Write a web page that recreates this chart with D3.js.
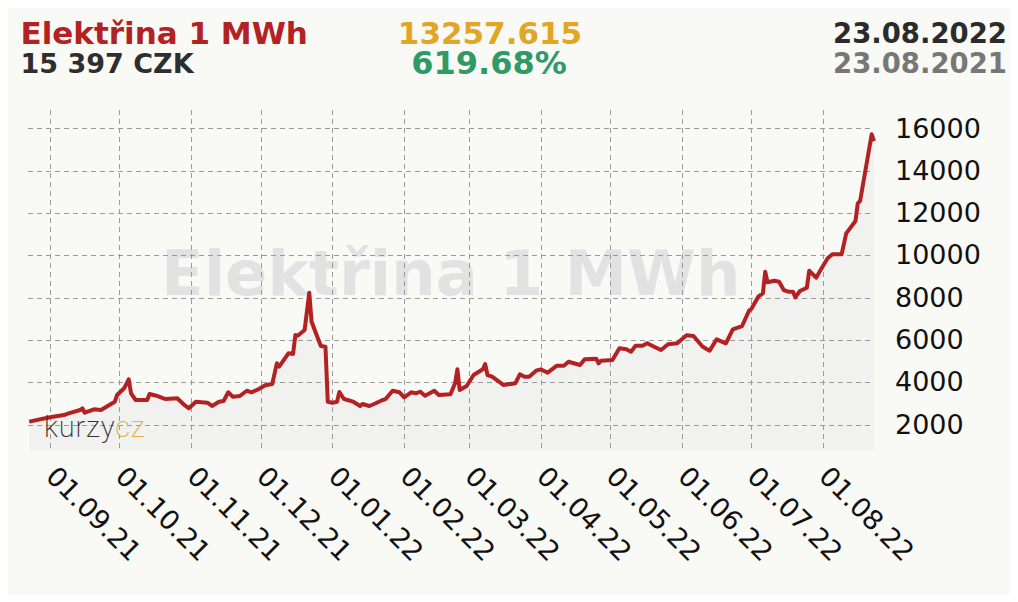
<!DOCTYPE html>
<html>
<head>
<meta charset="utf-8">
<script src="https://cdn.jsdelivr.net/npm/d3@7"></script>
<style>
    body { margin: 0; background: #fff; }
    svg { display: block; }
</style>
</head>
<body>
<div id="chart"></div>
<script>
var dates = ['2021-08-23','2021-09-01','2021-09-07','2021-09-09','2021-09-14','2021-09-15','2021-09-16','2021-09-20',
    '2021-09-23','2021-09-29','2021-09-30','2021-10-03','2021-10-05','2021-10-06','2021-10-08','2021-10-13',
    '2021-10-14','2021-10-17','2021-10-20','2021-10-21','2021-10-26','2021-10-29','2021-10-31','2021-11-03',
    '2021-11-08','2021-11-10','2021-11-13','2021-11-15','2021-11-17','2021-11-19','2021-11-22','2021-11-25',
    '2021-11-27','2021-11-30','2021-12-03','2021-12-06','2021-12-08','2021-12-09','2021-12-13','2021-12-15',
    '2021-12-16','2021-12-17','2021-12-20','2021-12-22','2021-12-23','2021-12-27','2021-12-29','2021-12-30',
    '2022-01-01','2022-01-03','2022-01-04','2022-01-06','2022-01-10','2022-01-13','2022-01-14','2022-01-17',
    '2022-01-19','2022-01-22','2022-01-24','2022-01-27','2022-01-30','2022-02-01','2022-02-04','2022-02-06',
    '2022-02-08','2022-02-10','2022-02-14','2022-02-16','2022-02-21','2022-02-23','2022-02-24','2022-02-25',
    '2022-02-28','2022-03-03','2022-03-07','2022-03-08','2022-03-09','2022-03-11','2022-03-16','2022-03-21',
    '2022-03-23','2022-03-25','2022-03-27','2022-03-30','2022-04-01','2022-04-04','2022-04-08','2022-04-11',
    '2022-04-13','2022-04-18','2022-04-20','2022-04-25','2022-04-26','2022-04-27','2022-05-02','2022-05-05',
    '2022-05-08','2022-05-10','2022-05-12','2022-05-15','2022-05-17','2022-05-20','2022-05-23','2022-05-26',
    '2022-05-30','2022-06-03','2022-06-06','2022-06-10','2022-06-13','2022-06-16','2022-06-20','2022-06-23',
    '2022-06-27','2022-06-30','2022-07-01','2022-07-04','2022-07-06','2022-07-07','2022-07-08','2022-07-11',
    '2022-07-13','2022-07-15','2022-07-17','2022-07-19','2022-07-20','2022-07-22','2022-07-25','2022-07-26',
    '2022-07-29','2022-08-01','2022-08-03','2022-08-05','2022-08-09','2022-08-11','2022-08-15','2022-08-16',
    '2022-08-17','2022-08-22','2022-08-23'];

var prices = [2139.385,2345,2454,2534,2690,2770,2563,2723,
    2690,3083,3400,3716,4141,3480,3163,3163,
    3447,3366,3243,3210,3243,2927,2770,3083,
    3036,2880,3083,3116,3527,3320,3352,3602,
    3527,3669,3858,3919,4897,4737,5370,5337,
    6235,6202,6471,8234,6863,5715,5682,3083,
    3036,3083,3540,3210,3083,2880,2974,2880,
    2974,3130,3210,3602,3527,3290,3527,3480,
    3555,3366,3602,3400,3432,3952,4614,3636,
    3825,4344,4614,4864,4344,4264,3872,3952,
    4378,4264,4264,4548,4614,4453,4784,4784,
    4973,4817,5086,5115,4897,5020,5053,5606,
    5559,5446,5729,5729,5843,5682,5526,5795,
    5843,6221,6188,5682,5493,6032,5843,6504,
    6660,7383,7464,8045,8206,9227,8726,8802,
    8755,8362,8281,8281,8017,8314,8471,9274,
    8943,9510,9860,10049,10049,11041,11623,12459,
    12568,15720,15397];

var monthTicks = ['2021-09-01','2021-10-01','2021-11-01','2021-12-01','2022-01-01','2022-02-01',
    '2022-03-01','2022-04-01','2022-05-01','2022-06-01','2022-07-01','2022-08-01'];
var priceTicks = [2000, 4000, 6000, 8000, 10000, 12000, 14000, 16000];

var title = 'Elektřina 1 MWh',
    lastPrice = '15 397 CZK',
    change = '13257.615',
    changePct = '619.68%',
    dateTo = '23.08.2022',
    dateFrom = '23.08.2021';

var parse = d3.timeParse('%Y-%m-%d'),
    fmt = d3.timeFormat('%d.%m.%y');

var data = dates.map(function(d, i) {
    return {date: parse(d), price: prices[i]};
});

var width = 1018, height = 602,
    plot = {left: 28, right: 873.5, top: 110, bottom: 450};

var x = d3.scaleTime()
    .domain([parse('2021-08-23'), parse('2022-08-23')])
    .range([29.2, 874]);
var y = d3.scaleLinear()
    .domain([800, 16870])
    .range([plot.bottom, plot.top]);

var svg = d3.select('#chart')
    .append('svg')
        .attr('width', width)
        .attr('height', height)
        .style('font-family', '"DejaVu Sans", Verdana, sans-serif');

svg.append('rect')
    .attr('x', 8).attr('y', 8)
    .attr('width', 1002).attr('height', 587)
    .attr('fill', '#f9f9f6');

// header
var head = svg.append('g').attr('font-weight', 'bold');
head.append('text').attr('x', 20.5).attr('y', 44).attr('font-size', 31).attr('fill', '#b22222').text(title);
head.append('text').attr('x', 20.5).attr('y', 73).attr('font-size', 27).attr('fill', '#2e2e2e').text(lastPrice);
head.append('text').attr('x', 490).attr('y', 44).attr('font-size', 31).attr('fill', '#e1a624')
    .attr('text-anchor', 'middle').text(change);
head.append('text').attr('x', 489).attr('y', 74).attr('font-size', 32).attr('fill', '#2f9a66')
    .attr('text-anchor', 'middle').text(changePct);
head.append('text').attr('x', 1007).attr('y', 42.7).attr('font-size', 27.5).attr('fill', '#2b2b2b')
    .attr('text-anchor', 'end').text(dateTo);
head.append('text').attr('x', 1007).attr('y', 73).attr('font-size', 27.5).attr('fill', '#777')
    .attr('text-anchor', 'end').text(dateFrom);

// area under the line
var area = d3.area()
    .x(function(d) { return x(d.date); })
    .y0(plot.bottom)
    .y1(function(d) { return y(d.price); });

svg.append('path')
    .attr('d', area(data))
    .attr('fill', '#f1f1f0');

// watermark
svg.append('text')
    .attr('x', (plot.left + plot.right) / 2)
    .attr('y', 295)
    .attr('text-anchor', 'middle')
    .attr('font-size', 62.5)
    .attr('font-weight', 'bold')
    .attr('fill', '#e2e2e2')
    .text(title);

// grid
var grid = svg.append('g')
    .attr('stroke', '#9a9a9a')
    .attr('stroke-width', 1)
    .attr('stroke-dasharray', '5,4');

grid.selectAll('line.v')
    .data(monthTicks)
    .enter().append('line')
        .attr('x1', function(d) { return Math.round(x(parse(d))) + 0.5; })
        .attr('x2', function(d) { return Math.round(x(parse(d))) + 0.5; })
        .attr('y1', plot.top)
        .attr('y2', plot.bottom);

grid.selectAll('line.h')
    .data(priceTicks)
    .enter().append('line')
        .attr('x1', plot.left)
        .attr('x2', plot.right)
        .attr('y1', function(d) { return Math.round(y(d)) + 0.5; })
        .attr('y2', function(d) { return Math.round(y(d)) + 0.5; });

// the line
var valueline = d3.line()
    .x(function(d) { return x(d.date); })
    .y(function(d) { return y(d.price); });

svg.append('path')
    .attr('d', valueline(data))
    .attr('fill', 'none')
    .attr('stroke', '#b22222')
    .attr('stroke-width', 4)
    .attr('stroke-linejoin', 'round');

// axes
var yAxis = d3.axisRight(y).tickValues(priceTicks).tickFormat(d3.format('d')).tickSize(0).tickPadding(6);
var yg = svg.append('g')
    .attr('transform', 'translate(889,0)')
    .call(yAxis);
yg.select('.domain').remove();
yg.selectAll('text')
    .attr('font-size', 27)
    .attr('font-family', '"DejaVu Sans", Verdana, sans-serif')
    .attr('fill', '#111');

var xAxis = d3.axisBottom(x).tickValues(monthTicks.map(parse)).tickFormat(fmt).tickSize(0);
var xg = svg.append('g')
    .attr('transform', 'translate(0,' + plot.bottom + ')')
    .call(xAxis);
xg.select('.domain').remove();
xg.selectAll('text')
    .attr('x', 0).attr('y', 0).attr('dy', null)
    .attr('text-anchor', 'start')
    .attr('transform', 'translate(-6,28) rotate(45)')
    .attr('font-size', 27)
    .attr('font-family', '"DejaVu Sans", Verdana, sans-serif')
    .attr('fill', '#111');

// logo
var logo = svg.append('text')
    .attr('x', 44)
    .attr('y', 437)
    .attr('font-family', 'Roboto, "Open Sans", sans-serif')
    .attr('font-weight', 200)
    .attr('font-size', 29)
    .attr('letter-spacing', 0.8);
logo.append('tspan').attr('fill', '#333').text('kurzy');
logo.append('tspan').attr('fill', '#e0b440').text('cz');
</script>
</body>
</html>
